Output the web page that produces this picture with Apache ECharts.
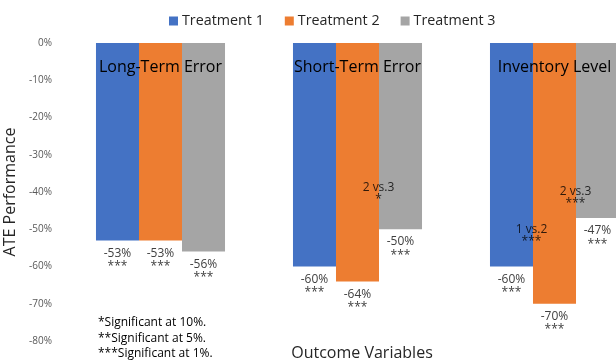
<!DOCTYPE html>
<html><head><meta charset="utf-8">
<script src="https://cdn.jsdelivr.net/npm/echarts@6/dist/echarts.min.js"></script>
<style>html,body{margin:0;padding:0;background:#fff}#c{width:616px;height:362px}</style>
</head><body><div id="c"></div>
<script>
const categories = ['Long-Term Error', 'Short-Term Error', 'Inventory Level'];
const seriesNames = ['Treatment 1', 'Treatment 2', 'Treatment 3'];
const t1 = [-0.53, -0.60, -0.60];
const t2 = [-0.53, -0.64, -0.70];
const t3 = [-0.56, -0.50, -0.47];
const stars = ['***', '***', '***'];
const yTicks = [0, -0.1, -0.2, -0.3, -0.4, -0.5, -0.6, -0.7, -0.8];
const annotations = [
  { cat: 'Short-Term Error', value: -0.405, text: '2 vs.3\n*', side: 'right' },
  { cat: 'Inventory Level', value: -0.416, text: '2 vs.3\n***', side: 'right' },
  { cat: 'Inventory Level', value: -0.518, text: '1 vs.2\n***', side: 'left' }
];
const footnotes = ['*Significant at 10%.', '**Significant at 5%.', '***Significant at 1%.'];
const colors = ['#4472C4', '#ED7D31', '#A5A5A5'];
const FONT = 'Open Sans';

const chart = echarts.init(document.getElementById('c'));
const barLabel = {
  show: true, position: 'bottom', distance: 6, color: '#404040',
  fontFamily: FONT, fontSize: 12, lineHeight: 13.5, align: 'center',
  formatter: p => Math.round(p.value * 100) + '%\n' + stars[p.dataIndex]
};
function barSeries(i, data) {
  return {
    name: seriesNames[i], type: 'bar', data: data, barGap: '0%', barCategoryGap: '34.5%',
    itemStyle: { color: colors[i] }, label: barLabel
  };
}
chart.setOption({
  animation: false,
  textStyle: { fontFamily: FONT },
  legend: {
    left: 164, top: 9, itemWidth: 9, itemHeight: 9, itemGap: 21,
    textStyle: { fontSize: 14.3, color: '#262626', fontFamily: FONT, padding: [0, 0, 0, -1] },
    icon: 'rect', data: seriesNames
  },
  grid: { left: 62, width: 591, top: 43, bottom: 21, containLabel: false, outerBoundsMode: 'none' },
  xAxis: {
    type: 'category', data: categories, position: 'top',
    axisLine: { show: false }, axisTick: { show: false },
    axisLabel: { inside: true, margin: 16, color: '#000', fontSize: 16, fontFamily: FONT, verticalAlign: 'top' },
    z: 10
  },
  yAxis: {
    type: 'value', min: -0.8, max: 0, interval: 0.1,
    axisLine: { show: false }, axisTick: { show: false }, splitLine: { show: false },
    axisLabel: { color: '#595959', fontSize: 10, margin: 10, fontFamily: FONT,
      formatter: v => Math.round(v * 100) + '%' },
    name: 'ATE Performance', nameLocation: 'middle', nameGap: 42,
    nameTextStyle: { fontSize: 16, color: '#262626', fontFamily: FONT }
  },
  title: [
    { text: 'Outcome Variables', left: 357, top: 340, textAlign: 'center',
      textStyle: { fontSize: 16, fontWeight: 'normal', color: '#262626', fontFamily: FONT } },
    { text: footnotes.join('\n'), left: 93, top: 310,
      textStyle: { fontSize: 12, fontWeight: 'normal', color: '#000', lineHeight: 15.5, fontFamily: FONT } }
  ],
  series: [
    barSeries(0, t1), barSeries(1, t2), barSeries(2, t3),
    {
      type: 'scatter', symbolSize: 0, silent: true, z: 20,
      data: annotations.map(a => ({
        value: [a.cat, a.value],
        label: { offset: [a.side === 'right' ? 21 : -23, 0] }
      })),
      label: {
        show: true, position: 'inside', color: '#000', fontSize: 12, lineHeight: 12,
        fontFamily: FONT, align: 'center',
        formatter: p => annotations[p.dataIndex].text
      }
    }
  ]
});
</script></body></html>
